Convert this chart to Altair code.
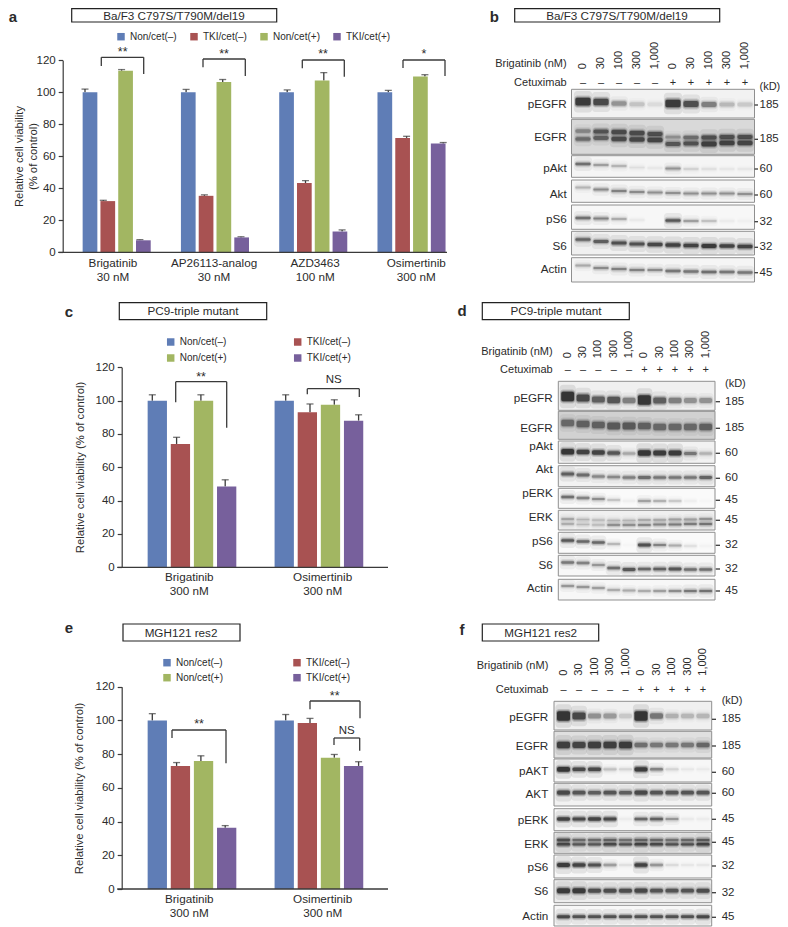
import altair as alt
import pandas as pd

# ---------- data ----------
SERIES = ["Non/cet(–)", "TKI/cet(–)", "Non/cet(+)", "TKI/cet(+)"]
COLORS = ["#5f7db6", "#a85252", "#a2b662", "#77609c"]

A_GROUPS = ["Brigatinib|30 nM", "AP26113-analog|30 nM", "AZD3463|100 nM", "Osimertinib|300 nM"]
A_VALUES = [[100, 32, 113.5, 7.5], [100, 35.3, 106.5, 9.3], [100, 43.3, 107.3, 13], [100, 71.5, 109.8, 68]]
A_ERRORS = [[2, 0.5, 0.7, 0.4], [1.8, 0.6, 1.5, 0.4], [1.5, 1.5, 5, 1], [1.2, 1, 1.2, 0.6]]

C_GROUPS = ["Brigatinib|300 nM", "Osimertinib|300 nM"]
C_VALUES = [[100, 74, 100, 48.5], [100, 93, 97.5, 88]]
C_ERRORS = [[3.5, 4, 3.5, 4], [3.5, 5, 3, 3.5]]

E_GROUPS = ["Brigatinib|300 nM", "Osimertinib|300 nM"]
E_VALUES = [[100, 73, 76, 36.3], [100, 98.5, 77.8, 73]]
E_ERRORS = [[4, 2, 3, 1.3], [3.5, 2.7, 2, 2.5]]

LANES = ["0", "30", "100", "300", "1,000", "0", "30", "100", "300", "1,000"]
CETUX = ["–", "–", "–", "–", "–", "+", "+", "+", "+", "+"]

# band intensity per lane (0-1)
B_BANDS = {
    "pEGFR": [[.95, .85, .4, .18, .08, .95, .8, .5, .22, .15]],
    "EGFR": [[.4, .7, .75, .75, .72, .3, .5, .72, .72, .72], [.55, .6, .75, .78, .8, .7, .72, .85, .82, .8]],
    "pAkt": [[.6, .35, .25, .08, .05, .4, .12, .08, .06, .06]],
    "Akt": [[.25, .45, .5, .45, .42, .42, .42, .42, .42, .42]],
    "pS6": [[.6, .5, .3, .05, .0, .75, .35, .2, .04, .03]],
    "S6": [[.65, .7, .8, .8, .85, .9, .9, .95, .88, .9]],
    "Actin": [[.3, .45, .5, .5, .45, .55, .55, .6, .55, .55]],
}
D_BANDS = {
    "pEGFR": [[1, .85, .7, .75, .5, 1, .7, .5, .4, .4]],
    "EGFR": [[.55, .6, .6, .65, .65, .6, .55, .55, .55, .6]],
    "pAkt": [[1, .9, .9, .75, .3, 1, .95, .95, .55, .25]],
    "Akt": [[.7, .6, .45, .45, .5, .6, .55, .55, .55, .65]],
    "pERK": [[.6, .5, .45, .2, .04, .35, .28, .18, .04, .02]],
    "ERK": [[.3, .22, .2, .2, .2, .25, .25, .3, .3, .35], [.25, .2, .2, .4, .4, .45, .45, .5, .5, .55]],
    "pS6": [[.75, .65, .65, .25, .02, .8, .5, .3, .1, .03]],
    "S6": [[.55, .5, .4, .6, .75, .65, .7, .75, .6, .6]],
    "Actin": [[.4, .4, .35, .3, .3, .3, .35, .45, .55, .6]],
}
F_BANDS = {
    "pEGFR": [[1, .85, .4, .35, .15, 1, .55, .25, .22, .22]],
    "EGFR": [[.9, .85, .9, .9, .92, .55, .5, .5, .5, .6]],
    "pAKT": [[1, .85, .85, .2, .12, .95, .5, .12, .05, .04]],
    "AKT": [[.85, .75, .7, .75, .7, .85, .75, .75, .75, .75]],
    "pERK": [[.9, .85, .9, .85, .04, .65, .7, .4, .05, .04]],
    "ERK": [[.75, .55, .55, .6, .5, .6, .55, .5, .55, .65], [.8, .7, .7, .8, .75, .85, .8, .75, .75, .85]],
    "pS6": [[.95, .9, .8, .35, .08, .9, .4, .1, .06, .06]],
    "S6": [[.95, .95, .8, .8, .8, .85, .75, .75, .75, .8]],
    "Actin": [[.85, .8, .8, .8, .8, .8, .8, .8, .8, .85]],
}

# ---------- layout (page pixels) ----------
W, H = 772, 919
FONT = "Liberation Sans"
INK = "#2b2b2b"
LINE = "#3a3a3a"

def page_x():
    return alt.Scale(domain=[8, 8 + W], range=[0, W], nice=False, zero=False)

def page_y():
    return alt.Scale(domain=[8, 8 + H], range=[0, H], nice=False, zero=False)

layers = []

def texts(rows, size=11, align="center", angle=0, weight="normal", lane_scale=None):
    df = pd.DataFrame(rows, columns=["x", "y", "t"])
    sx = lane_scale if lane_scale is not None else page_x()
    kw = dict(angle=angle) if angle else {}
    layers.append(alt.Chart(df).mark_text(
        font=FONT, fontSize=size, align=align, baseline="middle", fontWeight=weight, color=INK, **kw
    ).encode(x=alt.X("x:Q", scale=sx, axis=None),
             y=alt.Y("y:Q", scale=page_y(), axis=None),
             text="t:N"))

def rects(rows, fill="black", stroke=None, sw=1, lane_scale=None, radius=0):
    df = pd.DataFrame(rows, columns=["x1", "x2", "y1", "y2", "o"])
    sx = lane_scale if lane_scale is not None else page_x()
    kw = dict(fill=fill) if fill else dict(fillOpacity=0)
    if stroke:
        kw.update(stroke=stroke, strokeWidth=sw)
    if radius:
        kw.update(cornerRadius=radius)
    layers.append(alt.Chart(df).mark_rect(**kw).encode(
        x=alt.X("x1:Q", scale=sx, axis=None), x2="x2:Q",
        y=alt.Y("y1:Q", scale=page_y(), axis=None), y2="y2:Q",
        opacity=alt.Opacity("o:Q", scale=None)))

def segs(rows, color=LINE, width=1.3):
    df = pd.DataFrame(rows, columns=["x1", "x2", "y1", "y2"])
    layers.append(alt.Chart(df).mark_rule(color=color, strokeWidth=width).encode(
        x=alt.X("x1:Q", scale=page_x(), axis=None), x2="x2:Q",
        y=alt.Y("y1:Q", scale=page_y(), axis=None), y2="y2:Q"))

def bracket(xl, xr, top, yl, yr):
    segs([[xl, xr, top, top], [xl, xl, top, yl], [xr, xr, top, yr]])

def title_box(x1, x2, y1, y2, text, cx, cy, size=11.7):
    rects([[x1, x2, y1, y2, 1]], fill="white", stroke="#222222", sw=1.2)
    texts([[cx, cy, text]], size=size)

def barpanel(groups, values, errors, x0, bar_pitch, group_pitch, bar_w, y0, y120, axis_x, x_end,
             title, title_x, title_y, legend_xy, legend_cols, col_pad, row_pad, label_dy, cap):
    per = group_pitch / bar_pitch
    rows = []
    for g, (vals, errs) in enumerate(zip(values, errors)):
        for s, (v, e) in enumerate(zip(vals, errs)):
            rows.append(dict(pos=g * per + s, v=v, top=v + e, series=SERIES[s]))
    df = pd.DataFrame(rows)
    umax = (len(groups) - 1) * per + 3
    sx = alt.Scale(domain=[0, umax], range=[x0 - 8, x0 - 8 + umax * bar_pitch], nice=False, zero=False)
    sy = alt.Scale(domain=[0, 120], range=[y0 - 8, y120 - 8], nice=False, zero=False)
    layers.append(alt.Chart(df).mark_rule(color=LINE, strokeWidth=1.3).encode(
        x=alt.X("pos:Q", scale=sx, axis=None), y=alt.Y("v:Q", scale=sy, axis=None), y2="top:Q"))
    layers.append(alt.Chart(df).mark_tick(color=LINE, thickness=1.3, size=cap, orient="horizontal").encode(
        x=alt.X("pos:Q", scale=sx, axis=None), y=alt.Y("top:Q", scale=sy, axis=None)))
    layers.append(alt.Chart(df).mark_bar(size=bar_w).encode(
        x=alt.X("pos:Q", scale=sx, axis=None),
        y=alt.Y("v:Q", scale=sy, axis=alt.Axis(
            orient="left", offset=-(axis_x - 8), values=list(range(0, 121, 20)), grid=False,
            tickSize=4.5, tickWidth=1.2, tickColor=LINE, domainColor=LINE, domainWidth=1.2,
            labelFont=FONT, labelFontSize=11.5, labelColor=INK, labelPadding=3,
            title=title, titleFont=FONT, titleFontSize=11.3, titleFontWeight="normal", titleColor=INK,
            titleX=title_x - axis_x, titleY=title_y - 8, titleAngle=270, titleAlign="center",
            titleBaseline="middle", titleLineHeight=14.5)),
        color=alt.Color("series:N", scale=alt.Scale(domain=SERIES, range=COLORS), legend=alt.Legend(
            orient="none", legendX=legend_xy[0] - 8 - 4, legendY=legend_xy[1] - 8 - 6, columns=legend_cols,
            direction="horizontal", title=None, symbolType="square", symbolSize=56, symbolStrokeWidth=0,
            labelFont=FONT, labelFontSize=10, labelColor=INK, labelOffset=4, padding=0,
            columnPadding=col_pad, rowPadding=row_pad, symbolOpacity=1))))
    c = [x0 + (g * group_pitch) + 1.5 * bar_pitch for g in range(len(groups))]
    sg = alt.Scale(domain=groups, range=[c[0] - 8 - group_pitch / 2, c[-1] - 8 + group_pitch / 2], paddingInner=0, paddingOuter=0)
    gdf = pd.DataFrame({"g": groups})
    layers.append(alt.Chart(gdf).mark_point(opacity=0).encode(
        x=alt.X("g:N", scale=sg, sort=None, axis=alt.Axis(
            orient="bottom", offset=(y0 - 8) - H, domain=False, ticks=False, title=None, labelAngle=0,
            labelFont=FONT, labelFontSize=11.7, labelColor=INK, labelPadding=label_dy,
            labelExpr="split(datum.value, '|')", labelLineHeight=14.4, labelLimit=300)),
        y=alt.value(0)))
    segs([[axis_x - 4.5, x_end, y0, y0]], width=1.3)

def blot(bands, x0, x9, box_x, rows_y, band_y, band_h, bg, label_x, label_y, kd_x, kd_rows, kd_head_y,
         tick_x, head_name_y, head_cet_y, lane_bottom):
    lane_sc = alt.Scale(domain=[0, 9], range=[x0 - 8, x9 - 8], nice=False, zero=False)
    names = list(bands)
    rects([[box_x[0], box_x[1], rows_y[n][0], rows_y[n][1], bg[n]] for n in names])
    hw = 0.42
    steps = [[], [], [], []]
    pitch = (x9 - x0) / 9
    for n in names:
        for b, ints in enumerate(bands[n]):
            ys = band_y[n][b]
            h = band_h[n]
            topb, botb = rows_y[n]
            for lane, i in enumerate(ints):
                y = ys[lane] if isinstance(ys, list) else ys
                t = h * (0.65 + 0.45 * i + 0.45 * i ** 6)
                for k, (dy, dx, a) in enumerate([(3.6 + 3.5 * i, 1.6, .09), (2.3, 1.1, .16), (1.1, .5, .28), (0, 0, .68)]):
                    e = dx / pitch
                    steps[k].append([lane - hw - e, lane + hw + e,
                                     max(topb + .5, y - t / 2 - dy), min(botb - .5, y + t / 2 + dy), a * i])
    for k, rad in enumerate([3.5, 3, 2.5, 2]):
        rects(steps[k], fill="#0e0e0e", lane_scale=lane_sc, radius=rad)
    rects([[box_x[0], box_x[1], rows_y[n][0], rows_y[n][1], 1] for n in names], fill=None, stroke="#8f8f8f", sw=1)
    texts([[label_x, label_y[n], n] for n in names], size=11.7, align="right")
    texts([[kd_x, y, t] for t, y in kd_rows], size=11.5, align="left")
    texts([[kd_x, kd_head_y, "(kD)"]], size=11, align="left")
    segs([[tick_x[0], tick_x[1], y, y] for _, y in kd_rows], width=1.3)
    texts([[label_x, head_name_y, "Brigatinib (nM)"], [label_x, head_cet_y, "Cetuximab"]], size=11, align="right")
    texts([[i, lane_bottom, t] for i, t in enumerate(LANES)], size=11, align="left", angle=270, lane_scale=lane_sc)
    texts([[i, head_cet_y, t] for i, t in enumerate(CETUX)], size=11, lane_scale=lane_sc)

# ---- panel a
texts([[13, 17, "a"]], size=15, weight="bold")
title_box(71.7, 276.7, 8.6, 22, "Ba/F3 C797S/T790M/del19", 174, 15.5)
barpanel(A_GROUPS, A_VALUES, A_ERRORS, 85, 18.3, 101.1, 14.7, 252.3, 60.3, 62.7, 447,
         ["Relative cell viability", "(% of control)"], 19, 156, (120, 37.7), 4, 12, 0, 5, 7)
bracket(101.3, 143.7, 57.3, 66, 74)
bracket(203, 245.3, 59, 67.3, 76)
bracket(302.3, 344.3, 60, 68.3, 76.7)
bracket(403, 445, 60, 68, 76)
texts([[122.7, 51.5, "**"], [224, 53.5, "**"], [323, 53.5, "**"], [424, 53.5, "*"]], size=12.5)

# ---- panel c
texts([[69, 311.7, "c"]], size=15, weight="bold")
title_box(119.3, 266.7, 302.7, 319.7, "PC9-triple mutant", 193, 311)
barpanel(C_GROUPS, C_VALUES, C_ERRORS, 152.3, 24.3, 133.4, 19.3, 567.3, 367.3, 121.7, 388,
         "Relative cell viability  (% of control)", 80, 467, (169.7, 343), 2, 66, 6, 4, 7)
bracket(175.7, 226.7, 381.7, 402.3, 427.7)
bracket(307.3, 359.3, 388.7, 394.3, 397)
texts([[201, 376.5, "**"]], size=12.5)
texts([[333.7, 380.3, "NS"]], size=11.5)

# ---- panel e
texts([[69, 628, "e"]], size=15, weight="bold")
title_box(123, 240, 624, 641, "MGH121 res2", 181, 632.5)
barpanel(E_GROUPS, E_VALUES, E_ERRORS, 152.3, 24.3, 133.4, 19.3, 889, 686.7, 121.7, 388,
         "Relative cell viability (% of control)", 79, 788, (166, 663.7), 2, 69, 5, 4, 7)
bracket(172, 226, 730, 738, 763.3)
bracket(310, 360, 701, 709.3, 718.3)
bracket(334, 359.7, 738, 745, 750.7)
texts([[199, 724, "**"], [334.7, 695.5, "**"]], size=12.5)
texts([[346.7, 730.7, "NS"]], size=11.5)

# ---- panel b (right edge pulled in: the page stops at x=780)
texts([[494.3, 16.5, "b"]], size=15, weight="bold")
title_box(514.7, 719.7, 8.6, 22, "Ba/F3 C797S/T790M/del19", 617, 15.5)
blot(B_BANDS, 583, 745, (571.5, 754.5),
     {"pEGFR": (89.3, 118), "EGFR": (119.3, 154.3), "pAkt": (155.7, 177.3), "Akt": (180, 202.3),
      "pS6": (205, 229.3), "S6": (231.3, 255), "Actin": (257.7, 282)},
     {"pEGFR": [[101.7, 102, 103.5, 104.3, 104.3, 103.5, 104, 104.5, 104.5, 104.5]],
      "EGFR": [[131, 131.5, 132, 133, 134, 137, 137.5, 137.5, 137, 137],
               [139, 138, 139, 139.5, 140, 144, 143.5, 144, 143, 143]],
      "pAkt": [[164, 165, 166, 167.5, 168, 168.5, 169, 169, 169, 169]],
      "Akt": [[187.5, 189.5, 191, 192, 192.5, 193, 193.5, 193.5, 193.5, 194]],
      "pS6": [[218, 218.5, 219, 220, 220, 220.5, 221, 221, 221, 221]],
      "S6": [[239.5, 241.5, 243, 244, 244.5, 245, 245.5, 246, 246, 246.5]],
      "Actin": [[265.5, 268, 269, 270, 270, 271, 271.5, 272, 272, 272.5]]},
     {"pEGFR": 5.5, "EGFR": 4, "pAkt": 2.5, "Akt": 2.5, "pS6": 2.5, "S6": 2.8, "Actin": 2.5},
     {"pEGFR": .05, "EGFR": .15, "pAkt": .04, "Akt": .04, "pS6": .03, "S6": .06, "Actin": .04},
     566.7,
     {"pEGFR": 104.3, "EGFR": 136.7, "pAkt": 167.7, "Akt": 193.7, "pS6": 219, "S6": 246.3, "Actin": 269},
     759.5, [("185", 105), ("185", 139.3), ("60", 169), ("60", 195), ("32", 221.7), ("32", 247.3), ("45", 272.7)],
     87, (754.5, 758), 64, 82.7, 69.3)

# ---- panel d
texts([[462, 311, "d"]], size=15, weight="bold")
title_box(482.3, 629.3, 302.7, 319.7, "PC9-triple mutant", 556, 311)
blot(D_BANDS, 567.7, 705.7, (558.3, 715),
     {"pEGFR": (381.3, 410.3), "EGFR": (411.3, 439.3), "pAkt": (441, 463.3), "Akt": (465.7, 486.7),
      "pERK": (488.3, 508.3), "ERK": (510.3, 530), "pS6": (532.3, 553.3), "S6": (555.3, 576), "Actin": (579.3, 600)},
     {"pEGFR": [[396.5, 398, 399.5, 400, 400.5, 400, 400.5, 400.5, 400.5, 400.5]],
      "EGFR": [[423, 424, 425, 426, 426, 426, 427, 427, 427, 427]],
      "pAkt": [[451.7, 452, 452.5, 453, 453.5, 453, 453, 453, 453.5, 453.5]],
      "Akt": [[474, 475, 476.5, 477, 477.5, 477.5, 477.5, 477.5, 477.5, 477.5]],
      "pERK": [[497, 498, 499, 500, 501, 501, 501, 501, 501, 501]],
      "ERK": [[519, 519.5, 520, 520.5, 520.5, 520, 520, 519.5, 519.5, 519],
              [524, 524.5, 525, 525, 525, 525, 524.5, 524.5, 524, 524]],
      "pS6": [[540.5, 541.5, 542.5, 544, 545, 545, 545, 545.5, 546, 546]],
      "S6": [[562.5, 563, 565, 568, 569.5, 569, 569, 569, 569.5, 569.5]],
      "Actin": [[586, 587, 588, 590, 590.5, 591, 591, 591, 591, 591]]},
     {"pEGFR": 6, "EGFR": 7, "pAkt": 3.5, "Akt": 3, "pERK": 2.6, "ERK": 2.3, "pS6": 2.5, "S6": 2.6, "Actin": 2.3},
     {"pEGFR": .06, "EGFR": .18, "pAkt": .05, "Akt": .05, "pERK": .02, "ERK": .06, "pS6": .02, "S6": .03, "Actin": .03},
     552.7,
     {"pEGFR": 397.7, "EGFR": 427.7, "pAkt": 445.7, "Akt": 469.3, "pERK": 493.3, "ERK": 517.3, "pS6": 541, "S6": 565, "Actin": 588.3},
     725, [("185", 401.7), ("185", 428.3), ("60", 453.3), ("60", 478.3), ("45", 500.3), ("45", 520.3), ("32", 545.3), ("32", 569), ("45", 591)],
     384.3, (715.7, 720), 352.3, 370, 358.3)

# ---- panel f
texts([[462, 630, "f"]], size=15, weight="bold")
title_box(482.3, 598.7, 624, 641, "MGH121 res2", 540.7, 632.5)
blot(F_BANDS, 563.5, 703, (554, 711.7),
     {"pEGFR": (701.3, 730), "EGFR": (731.3, 758), "pAKT": (759, 782), "AKT": (783.3, 806),
      "pERK": (808.7, 830.7), "ERK": (832.3, 853.3), "pS6": (855, 878), "S6": (879.7, 902.7), "Actin": (905.3, 926)},
     {"pEGFR": [716], "EGFR": [745], "pAKT": [769.3], "AKT": [792.7], "pERK": [819],
      "ERK": [840, 844.3], "pS6": [865], "S6": [890.7], "Actin": [916.7]},
     {"pEGFR": 6, "EGFR": 5, "pAKT": 3, "AKT": 3.5, "pERK": 2.6, "ERK": 2.2, "pS6": 2.8, "S6": 3.5, "Actin": 2.4},
     {"pEGFR": .06, "EGFR": .12, "pAKT": .03, "AKT": .05, "pERK": .03, "ERK": .1, "pS6": .03, "S6": .07, "Actin": .03},
     548.3,
     {"pEGFR": 717.3, "EGFR": 746, "pAKT": 771, "AKT": 794.3, "pERK": 820, "ERK": 844, "pS6": 866.7, "S6": 891, "Actin": 915.7},
     721.7, [("185", 719.3), ("185", 746), ("60", 772.3), ("60", 793.3), ("45", 819.3), ("45", 842.3), ("32", 866), ("32", 892.7), ("45", 917.3)],
     701, (712, 716), 666, 690, 675.7)

chart = alt.layer(*layers).resolve_scale(x="independent", y="independent", color="independent", opacity="independent").properties(
    width=W, height=H, padding=0, background="white",
    autosize=alt.AutoSizeParams(type="none", contains="content"),
).configure_view(stroke=None)

chart.save("out.html", embed_options={"renderer": "svg", "actions": False})
